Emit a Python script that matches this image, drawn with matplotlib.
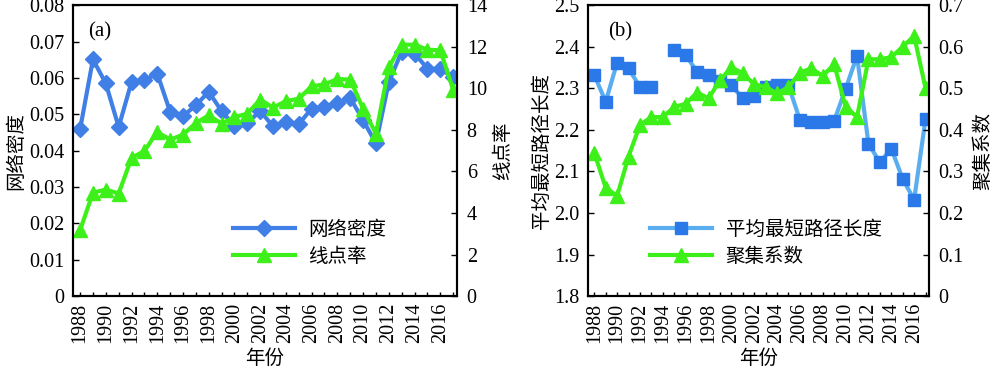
import numpy as np
import matplotlib.pyplot as plt
from matplotlib.ticker import FixedLocator, FuncFormatter

plt.rcParams['font.family'] = ['Liberation Serif', 'Noto Sans CJK SC']

years = np.arange(1988, 2018)

# (a) 网络密度 / 线点率
midu = [0.0459, 0.0651, 0.0585, 0.0465, 0.0589, 0.0594, 0.0612, 0.0507, 0.0495, 0.0525,
        0.0562, 0.0509, 0.0468, 0.0476, 0.0509, 0.0467, 0.0479, 0.0473, 0.0516, 0.0520,
        0.0531, 0.0545, 0.0484, 0.0420, 0.0589, 0.0672, 0.0667, 0.0626, 0.0624, 0.0603]
xiandian = [3.17, 4.98, 5.13, 4.94, 6.65, 6.99, 7.90, 7.53, 7.77, 8.33,
            8.70, 8.30, 8.62, 8.78, 9.46, 9.07, 9.39, 9.50, 10.10, 10.19,
            10.45, 10.42, 9.02, 7.82, 11.02, 12.10, 12.10, 11.86, 11.83, 9.94]

# (b) 平均最短路径长度 / 聚集系数  (1994 无数据)
lujing = [2.332, 2.268, 2.362, 2.348, 2.303, 2.304, np.nan, 2.392, 2.380, 2.340,
          2.331, 2.318, 2.307, 2.276, 2.282, 2.304, 2.307, 2.307, 2.224, 2.218,
          2.218, 2.222, 2.299, 2.378, 2.167, 2.122, 2.155, 2.082, 2.032, 2.227]
juji = [0.345, 0.261, 0.241, 0.336, 0.412, 0.431, 0.431, 0.455, 0.463, 0.490,
        0.476, 0.519, 0.551, 0.536, 0.510, 0.503, 0.488, 0.503, 0.538, 0.548,
        0.530, 0.558, 0.456, 0.431, 0.570, 0.570, 0.575, 0.600, 0.626, 0.500]

blue = '#3f7fe6'
blue_line = '#5aaef0'
blue_mk = '#2b78e8'
green = '#3ef01a'
cjk = ['Noto Sans CJK SC', 'DejaVu Sans']
fs = 14.5      # 刻度字号
lfs = 14       # 中文标签字号

fig = plt.figure(figsize=(10, 3.73), dpi=100)
axa = fig.add_axes([0.073, 0.206, 0.384, 0.780])
axb = fig.add_axes([0.588, 0.206, 0.341, 0.780])


def style_x(ax):
    ax.set_xlim(1987.45, 2017.3)
    ax.xaxis.set_major_locator(FixedLocator(years))
    ax.xaxis.set_major_formatter(FuncFormatter(lambda v, p: str(int(v)) if int(v) % 2 == 0 else ''))
    ax.tick_params(axis='x', direction='in', length=3, width=1, rotation=90, labelsize=fs, pad=5)
    ax.set_xlabel('年份', family=cjk, fontsize=lfs, labelpad=3)
    for s in ax.spines.values():
        s.set_linewidth(1.5)


def style_y(ax, ax2):
    ax.tick_params(axis='y', direction='in', length=4, width=1, labelsize=fs, pad=6)
    ax2.tick_params(axis='y', direction='in', length=4, width=1, labelsize=fs, pad=7)
    for s in ax2.spines.values():
        s.set_linewidth(1.5)


# ---- (a)
axa2 = axa.twinx()
la, = axa.plot(years, midu, color=blue, lw=3, marker='D', ms=8, mfc=blue, mec=blue)
lb, = axa2.plot(years, xiandian, color=green, lw=3, marker='^', ms=10, mfc=green, mec=green)
axa.set_ylim(0, 0.08)
axa.set_yticks(np.arange(0, 0.081, 0.01))
axa.yaxis.set_major_formatter(FuncFormatter(lambda v, p: '0' if abs(v) < 1e-9 else f'{v:.2f}'))
axa2.set_ylim(0, 14)
axa2.set_yticks(np.arange(0, 15, 2))
style_x(axa)
style_y(axa, axa2)
axa.set_ylabel('网络密度', family=cjk, fontsize=lfs, labelpad=2)
axa2.set_ylabel('线点率', family=cjk, fontsize=lfs, labelpad=4)
axa.text(0.04, 0.91, '(a)', transform=axa.transAxes, fontsize=15, va='center')
axa2.legend([la, lb], ['网络密度', '线点率'], loc='lower left', bbox_to_anchor=(0.37, 0.04),
            frameon=False, prop={'family': cjk, 'size': lfs}, handlelength=3.2,
            handletextpad=0.7, labelspacing=0.3)

# ---- (b)
axb2 = axb.twinx()
lc, = axb.plot(years, lujing, color=blue_line, lw=3, marker='s', ms=9, mfc=blue_mk, mec=blue_mk)
ld, = axb2.plot(years, juji, color=green, lw=3, marker='^', ms=10, mfc=green, mec=green)
axb.set_ylim(1.8, 2.5)
axb.set_yticks(np.arange(1.8, 2.51, 0.1))
axb.yaxis.set_major_formatter(FuncFormatter(lambda v, p: f'{v:.1f}'))
axb2.set_ylim(0, 0.7)
axb2.set_yticks(np.arange(0, 0.71, 0.1))
axb2.yaxis.set_major_formatter(FuncFormatter(lambda v, p: '0' if abs(v) < 1e-9 else f'{v:.1f}'))
style_x(axb)
style_y(axb, axb2)
axb.set_ylabel('平均最短路径长度', family=cjk, fontsize=lfs, labelpad=2)
axb2.set_ylabel('聚集系数', family=cjk, fontsize=lfs, labelpad=6)
axb.text(0.06, 0.91, '(b)', transform=axb.transAxes, fontsize=15, va='center')
axb2.legend([lc, ld], ['平均最短路径长度', '聚集系数'], loc='lower left', bbox_to_anchor=(0.13, 0.04),
            frameon=False, prop={'family': cjk, 'size': lfs}, handlelength=3.2,
            handletextpad=0.7, labelspacing=0.3)

fig.savefig('out.png', dpi=100)
